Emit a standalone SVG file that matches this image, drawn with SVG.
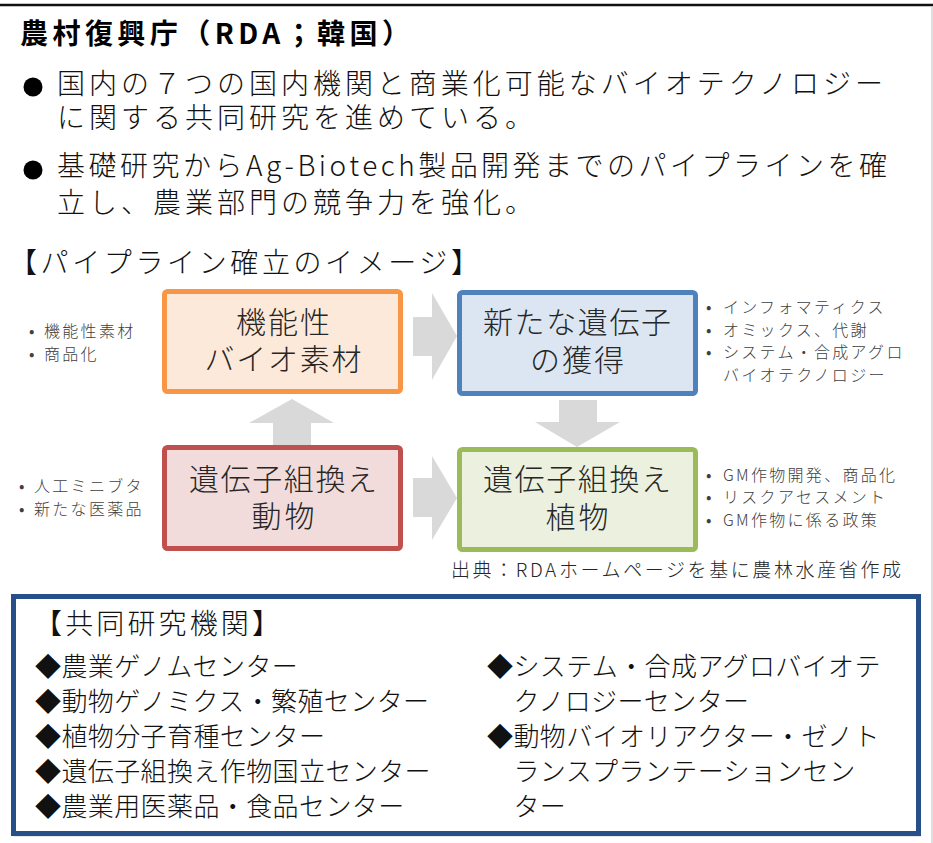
<svg xmlns="http://www.w3.org/2000/svg" width="933" height="843" viewBox="0 0 933 843">
<style>
text{font-family:"Noto Sans CJK JP","Noto Sans",sans-serif;}
.title{font-size:28px;font-weight:bold;fill:#000;}
.body{font-size:28px;fill:#111;font-weight:300;}
.box{stroke-width:5;}
.bt{font-size:30px;fill:#262626;text-anchor:middle;font-weight:300;}
.side{font-size:16px;fill:#404040;letter-spacing:2.3px;font-weight:300;}
.dot{font-size:16px;fill:#404040;}
.arrow{fill:#D9D9D9;}
.item{font-size:26px;fill:#111;letter-spacing:0.4px;font-weight:300;}
.src{font-size:19px;fill:#262626;font-weight:300;}
</style>
<rect x="0" y="0" width="933" height="843" fill="#fff"/>
<line x1="0" y1="5" x2="933" y2="5" stroke="#111" stroke-width="2.5"/>
<line x1="932" y1="6" x2="932" y2="843" stroke="#C8C8C8" stroke-width="1.2"/>

<g id="header">
<text class="title" x="20" y="44" textLength="390" lengthAdjust="spacing">農村復興庁（RDA；韓国）</text>
<circle cx="33" cy="87" r="9.5" fill="#000"/>
<text class="body" x="57" y="94" textLength="826" lengthAdjust="spacing">国内の７つの国内機関と商業化可能なバイオテクノロジー</text>
<text class="body" x="57" y="128" textLength="476" lengthAdjust="spacing">に関する共同研究を進めている。</text>
<circle cx="33" cy="170" r="9.5" fill="#000"/>
<text class="body" x="57" y="176" textLength="830" lengthAdjust="spacing">基礎研究からAg-Biotech製品開発までのパイプラインを確</text>
<text class="body" x="57" y="213" textLength="476" lengthAdjust="spacing">立し、農業部門の競争力を強化。</text>
<text class="body" x="9" y="273" textLength="470" lengthAdjust="spacing">【パイプライン確立のイメージ】</text>
</g>

<g id="connectors">
<polygon class="arrow" points="413,317 432,317 432,293 457,336 432,380 432,356 413,356"/>
<polygon class="arrow" points="413,478 432,478 432,456 457,498 432,540 432,517 413,517"/>
<polygon class="arrow" points="273,446 273,423 249,423 292,399 334,423 311,423 311,446"/>
<polygon class="arrow" points="559,400 597,400 597,422 620,422 577,447 535,422 559,422"/>
</g>

<g id="node-biomaterial">
<rect class="box" x="164.5" y="291.5" width="236" height="100" rx="3" fill="#FDE9D9" stroke="#F79646"/>
<text class="bt" x="283" y="333" textLength="94" lengthAdjust="spacing">機能性</text>
<text class="bt" x="283" y="370" textLength="157" lengthAdjust="spacing">バイオ素材</text>
</g>

<g id="node-newgene">
<rect class="box" x="459.5" y="292.5" width="236" height="101" rx="3" fill="#DCE6F2" stroke="#4F81BD"/>
<text class="bt" x="577" y="333" textLength="188" lengthAdjust="spacing">新たな遺伝子</text>
<text class="bt" x="577" y="371" textLength="94" lengthAdjust="spacing">の獲得</text>
</g>

<g id="node-gmanimal">
<rect class="box" x="164.5" y="447.5" width="236" height="101" rx="3" fill="#F2DCDB" stroke="#C0504D"/>
<text class="bt" x="283" y="490" textLength="188" lengthAdjust="spacing">遺伝子組換え</text>
<text class="bt" x="283" y="527" textLength="63" lengthAdjust="spacing">動物</text>
</g>

<g id="node-gmplant">
<rect class="box" x="459.5" y="449.5" width="236" height="100" rx="3" fill="#EBF1DE" stroke="#9BBB59"/>
<text class="bt" x="577" y="490" textLength="188" lengthAdjust="spacing">遺伝子組換え</text>
<text class="bt" x="577" y="528" textLength="63" lengthAdjust="spacing">植物</text>
</g>

<g id="notes-left">
<text class="dot" x="29" y="337">•</text>
<text class="side" x="44" y="337">機能性素材</text>
<text class="dot" x="29" y="360">•</text>
<text class="side" x="44" y="360">商品化</text>
<text class="dot" x="19" y="492">•</text>
<text class="side" x="34" y="492">人工ミニブタ</text>
<text class="dot" x="19" y="515">•</text>
<text class="side" x="34" y="515">新たな医薬品</text>
</g>

<g id="notes-right">
<text class="dot" x="706" y="313">•</text>
<text class="side" x="723" y="313">インフォマティクス</text>
<text class="dot" x="706" y="336">•</text>
<text class="side" x="723" y="336">オミックス、代謝</text>
<text class="dot" x="706" y="358">•</text>
<text class="side" x="723" y="358">システム・合成アグロ</text>
<text class="side" x="723" y="381">バイオテクノロジー</text>
<text class="dot" x="706" y="481">•</text>
<text class="side" x="723" y="481">GM作物開発、商品化</text>
<text class="dot" x="706" y="503">•</text>
<text class="side" x="723" y="503">リスクアセスメント</text>
<text class="dot" x="706" y="526">•</text>
<text class="side" x="723" y="526">GM作物に係る政策</text>
</g>

<text class="src" x="451" y="577" textLength="450" lengthAdjust="spacing">出典：RDAホームページを基に農林水産省作成</text>

<g id="institutions">
<rect x="15" y="598.5" width="905" height="237" fill="none" stroke="#D0D0D0" stroke-width="2"/>
<rect x="13.5" y="596.5" width="905" height="237" fill="#fff" stroke="#27508A" stroke-width="5"/>
<text class="body" x="34" y="634" textLength="246" lengthAdjust="spacing">【共同研究機関】</text>
<text class="item" x="35" y="676">◆農業ゲノムセンター</text>
<text class="item" x="35" y="711">◆動物ゲノミクス・繁殖センター</text>
<text class="item" x="35" y="746">◆植物分子育種センター</text>
<text class="item" x="35" y="781">◆遺伝子組換え作物国立センター</text>
<text class="item" x="35" y="816">◆農業用医薬品・食品センター</text>
<text class="item" x="487" y="676">◆システム・合成アグロバイオテ</text>
<text class="item" x="513.4" y="711">クノロジーセンター</text>
<text class="item" x="487" y="746">◆動物バイオリアクター・ゼノト</text>
<text class="item" x="513.4" y="781">ランスプランテーションセン</text>
<text class="item" x="513.4" y="816">ター</text>
</g>
</svg>
